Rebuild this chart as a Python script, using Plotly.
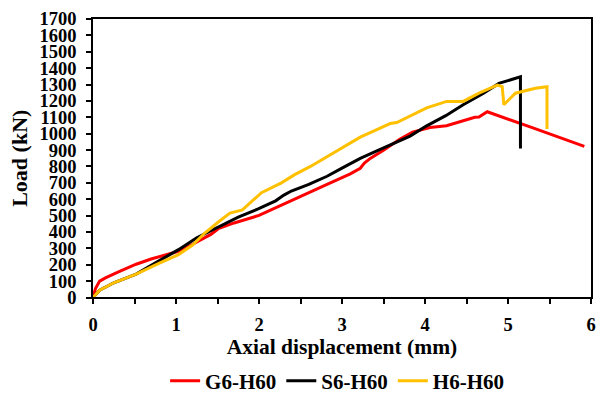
import plotly.graph_objects as go

# G6-H60 (red)
g6_x = [0, 0.03, 0.08, 0.15, 0.3, 0.52, 0.7, 1.03, 1.2, 1.35, 1.42, 1.51, 1.7, 2.0, 2.4, 2.82,
        3.1, 3.22, 3.27, 3.34, 3.5, 3.7, 3.85, 4.06, 4.26, 4.46, 4.6, 4.65, 4.75, 5.3, 5.92]
g6_y = [0, 55, 100, 120, 155, 203, 235, 282, 325, 365, 385, 420, 455, 501, 591, 690,
        755, 789, 820, 849, 899, 968, 1010, 1038, 1048, 1078, 1100, 1102, 1134, 1035, 923]

# S6-H60 (black)
s6_x = [0, 0.08, 0.25, 0.52, 0.8, 1.03, 1.25, 1.51, 1.75, 1.99, 2.2, 2.3, 2.39, 2.6, 2.82,
        3.0, 3.22, 3.42, 3.62, 3.82, 4.02, 4.25, 4.46, 4.7, 4.89, 5.0, 5.15, 5.15]
s6_y = [0, 44, 90, 143, 225, 292, 365, 432, 490, 541, 590, 625, 650, 690, 740,
        790, 849, 895, 939, 985, 1048, 1110, 1177, 1245, 1307, 1325, 1347, 909]

# H6-H60 (yellow)
h6_x = [0, 0.08, 0.25, 0.52, 0.8, 1.03, 1.2, 1.35, 1.51, 1.65, 1.8, 1.9, 2.03, 2.27, 2.43,
        2.62, 2.82, 3.0, 3.22, 3.4, 3.58, 3.66, 3.86, 4.02, 4.26, 4.46, 4.65, 4.87, 4.93,
        4.95, 5.01, 5.09, 5.33, 5.47, 5.47]
h6_y = [0, 44, 90, 143, 210, 262, 320, 395, 461, 515, 535, 580, 640, 700, 750,
        800, 859, 910, 979, 1020, 1062, 1068, 1118, 1158, 1197, 1197, 1247, 1297, 1287,
        1177, 1207, 1247, 1277, 1287, 1028]

series = [
    ("G6-H60", g6_x, g6_y, "#FF0000"),
    ("S6-H60", s6_x, s6_y, "#000000"),
    ("H6-H60", h6_x, h6_y, "#FFC000"),
]

FONT = "Liberation Serif"

fig = go.Figure()
for name, xs, ys, col in series:
    fig.add_trace(go.Scatter(x=xs, y=ys, mode="lines", name=name,
                             line=dict(color=col, width=3)))

fig.update_layout(
    width=602, height=394,
    margin=dict(l=93, r=6, t=19, b=90),
    paper_bgcolor="white", plot_bgcolor="white",
    font=dict(family=FONT, size=18, color="black"),
    showlegend=True,
    legend=dict(orientation="h",
                xref="container", x=0.56, xanchor="center",
                yref="container", y=1 - 381 / 394, yanchor="middle",
                font=dict(family=FONT, size=21, color="black", weight="bold"),
                itemwidth=30, tracegroupgap=0),
)

fig.update_xaxes(
    range=[0, 6], dtick=1, tick0=0,
    showline=True, linecolor="black", linewidth=1.5, mirror=True,
    ticks="outside", ticklen=5, tickwidth=1.5, tickcolor="black",
    minor=dict(dtick=0.5, ticks="outside", ticklen=5, tickwidth=1.5, tickcolor="black"),
    showgrid=False, zeroline=False,
    ticklabelstandoff=5,
    tickfont=dict(family=FONT, size=18.5, weight="bold"),
    title=dict(text="Axial displacement (mm)", standoff=4,
               font=dict(family=FONT, size=21.5, weight="bold")),
)
fig.update_yaxes(
    range=[0, 1700], dtick=100, tick0=0,
    showline=True, linecolor="black", linewidth=1.5, mirror=True,
    ticks="outside", ticklen=5, tickwidth=1.5, tickcolor="black",
    showgrid=False, zeroline=False,
    ticklabelstandoff=6,
    tickfont=dict(family=FONT, size=18.5, weight="bold"),
    title=dict(text="Load (kN)", standoff=6,
               font=dict(family=FONT, size=22, weight="bold")),
)

fig.write_html("out.html")
